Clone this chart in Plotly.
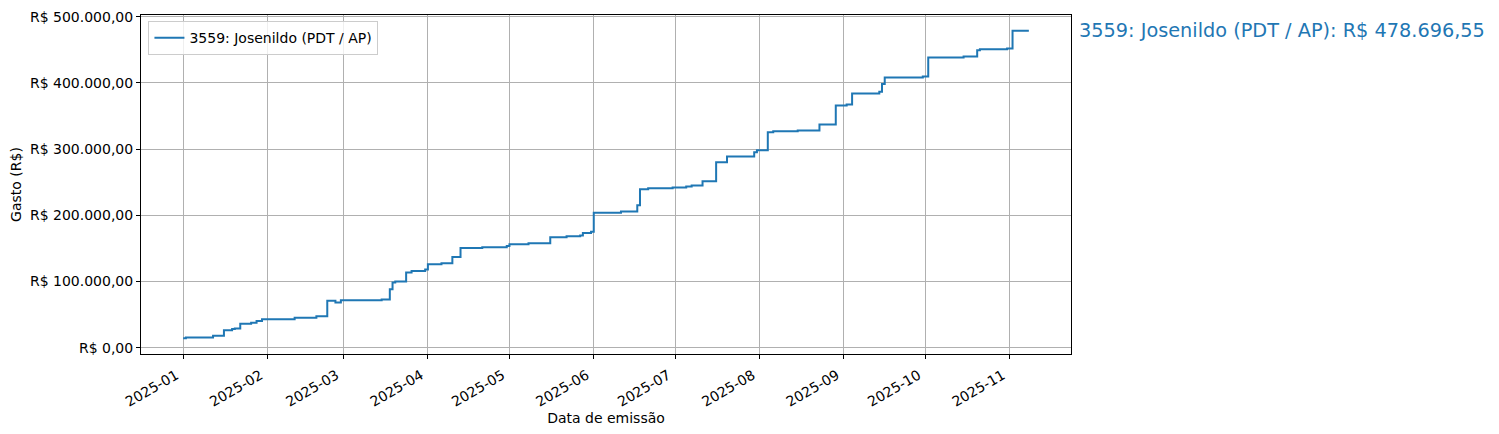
import plotly.graph_objects as go

# cumulative spending
dates = [
    '2025-01-01', '2025-01-02', '2025-01-12', '2025-01-16', '2025-01-19', '2025-01-20',
    '2025-01-22', '2025-01-26', '2025-01-28', '2025-01-30', '2025-02-11', '2025-02-19',
    '2025-02-23', '2025-02-26', '2025-02-28', '2025-03-15', '2025-03-18', '2025-03-19',
    '2025-03-20', '2025-03-24', '2025-03-26', '2025-03-31', '2025-04-01', '2025-04-06',
    '2025-04-10', '2025-04-13', '2025-04-21', '2025-04-30', '2025-05-01', '2025-05-08',
    '2025-05-16', '2025-05-22', '2025-05-27', '2025-05-28', '2025-05-31', '2025-06-01',
    '2025-06-11', '2025-06-17', '2025-06-18', '2025-06-21', '2025-06-30', '2025-07-05',
    '2025-07-07', '2025-07-11', '2025-07-16', '2025-07-20', '2025-07-30', '2025-07-31',
    '2025-08-04', '2025-08-06', '2025-08-15', '2025-08-23', '2025-08-29', '2025-09-02',
    '2025-09-04', '2025-09-14', '2025-09-15', '2025-09-16', '2025-09-30', '2025-10-02',
    '2025-10-15', '2025-10-20', '2025-10-21', '2025-10-31', '2025-11-02', '2025-11-08',
]
gasto = [
    14200, 15600, 18000, 26200, 28200, 29000,
    36100, 37600, 40200, 42800, 45200, 47700,
    70800, 68400, 71800, 72900, 88400, 98500,
    100000, 113500, 116000, 118000, 126200, 127600,
    137000, 150600, 151700, 153600, 156200, 157700,
    166700, 168200, 169300, 173200, 175300, 203900,
    205900, 215000, 239500, 241000, 242000, 243500,
    245000, 251500, 280100, 288700, 295200, 298200,
    325300, 326800, 327900, 337300, 366000, 367500,
    384000, 386600, 398200, 408100, 409600, 438200,
    439700, 449400, 450900, 451800, 478696.55, 478696.55,
]

nome = '3559: Josenildo (PDT / AP)'
total_txt = 'R$ 478.696,55'

y_ticks = [0, 100000, 200000, 300000, 400000, 500000]
y_labels = ['R$ 0,00', 'R$ 100.000,00', 'R$ 200.000,00', 'R$ 300.000,00',
            'R$ 400.000,00', 'R$ 500.000,00']
x_ticks = ['2025-01-01', '2025-02-01', '2025-03-01', '2025-04-01', '2025-05-01',
           '2025-06-01', '2025-07-01', '2025-08-01', '2025-09-01', '2025-10-01',
           '2025-11-01']
x_labels = ['2025-01', '2025-02', '2025-03', '2025-04', '2025-05', '2025-06',
            '2025-07', '2025-08', '2025-09', '2025-10', '2025-11']

fig = go.Figure()
fig.add_trace(go.Scatter(
    x=dates, y=gasto,
    mode='lines', line_shape='hv',
    line=dict(color='#1f77b4', width=2),
    name=nome
))

# label with the final total, to the right of the axes
fig.add_annotation(
    x=1, y=gasto[-1], xref='paper', yref='y',
    xanchor='left', yanchor='middle', xshift=6,
    text=f'{nome}: {total_txt}', showarrow=False,
    font=dict(size=19.3, color='#1f77b4')
)

axis_style = dict(
    showline=True, linecolor='black', linewidth=1, mirror=True,
    ticks='outside', ticklen=4, tickcolor='black',
    showgrid=True, gridcolor='#b0b0b0', gridwidth=1,
    zeroline=False, tickfont=dict(size=14, color='black'),
    automargin=False
)
fig.update_xaxes(
    **axis_style,
    type='date',
    range=['2024-12-16 12:00', '2025-11-23 12:00'],
    tickvals=x_ticks, ticktext=x_labels, tickangle=-30,
    ticklabelshift=-7, ticklabelstandoff=3,
    title=dict(text='Data de emissão', font=dict(size=14, color='black'), standoff=2)
)
fig.update_yaxes(
    **axis_style,
    range=[-9500, 502500],
    tickvals=y_ticks, ticktext=y_labels,
    title=dict(text='Gasto (R$)', font=dict(size=14, color='black'), standoff=6)
)
# the page body adds an 8px offset, so the figure is sized 8px smaller
fig.update_layout(
    width=1491, height=426,
    margin=dict(l=133, r=428, t=7, b=80, autoexpand=False),
    paper_bgcolor='white', plot_bgcolor='white',
    font=dict(family='DejaVu Sans', size=14, color='black'),
    showlegend=True,
    legend=dict(
        x=0.008, y=0.982, xanchor='left', yanchor='top',
        bgcolor='rgba(255,255,255,0.8)', bordercolor='#cccccc', borderwidth=1,
        font=dict(size=14), tracegroupgap=0
    )
)

fig.write_html('out.html')
